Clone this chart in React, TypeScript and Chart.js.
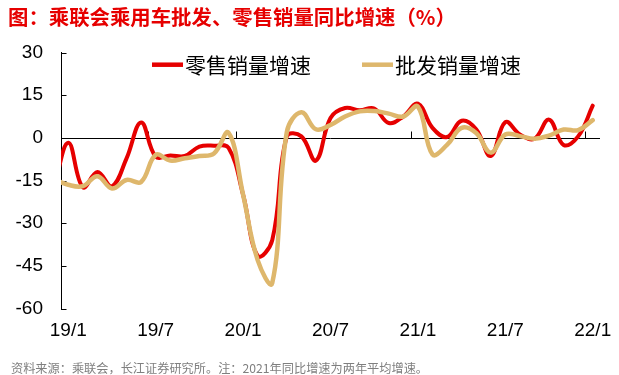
import React, { useEffect, useRef } from "react";
import { Chart, registerables } from "chart.js";

Chart.register(...registerables);

// Monthly categories (18/12 sits just left of the visible range, clipped by the axis)
const labels = [
  "18/12",
  "19/1", "19/2", "19/3", "19/4", "19/5", "19/6", "19/7", "19/8", "19/9", "19/10", "19/11", "19/12",
  "20/1", "20/2", "20/3", "20/4", "20/5", "20/6", "20/7", "20/8", "20/9", "20/10", "20/11", "20/12",
  "21/1", "21/2", "21/3", "21/4", "21/5", "21/6", "21/7", "21/8", "21/9", "21/10", "21/11", "21/12",
  "22/1",
];

const retailGrowth = [
  -18,
  -1.7, -17.4, -12, -17, -7.2, 5.4, -6.6, -6.2, -6.4, -3.1, -2.8, -3.5,
  -20, -41.5, -36, 0.5, 0.5, -8, 7, 10.5, 9.7, 10.3, 5.2, 7.5,
  12, 3.5, 0.3, 6, 3, -6.4, 5.5, 1.2, -0.3, 6.4, -2.5, 0.5,
  11.3,
];

const wholesaleGrowth = [
  -14.5,
  -16.5, -17, -13.5, -17.8, -14.8, -15.5, -6, -8, -7.2, -6.4, -5.5, 1.8,
  -20, -43, -51, 2, 9, 3, 4.5, 7.5, 9.3, 9.4, 8.5, 7.5,
  11, -5.8, -2.5, 3.5, 1.7, -5.2, 1.2, 0.6, -0.3, 0.8, 2.9, 2.7,
  6.2,
];

const xTickLabels = ["19/1", "19/7", "20/1", "20/7", "21/1", "21/7", "22/1"];
const yTicks = [30, 15, 0, -15, -30, -45, -60];
const seriesNames = ["零售销量增速", "批发销量增速"];

const titleText = "图：乘联会乘用车批发、零售销量同比增速（%）";
const sourceText = "资料来源：乘联会，长江证券研究所。注：2021年同比增速为两年平均增速。";

const RED = "#E60000";
const TAN = "#DEB76C";

const axesPlugin = {
  id: "customAxes",
  beforeDatasetsDraw(chart: any) {
    const { ctx, chartArea } = chart;
    const x = chart.scales.x;
    const y = chart.scales.y;
    const y0 = Math.round(y.getPixelForValue(0)) + 0.5;
    ctx.save();
    ctx.strokeStyle = "#000";
    ctx.lineWidth = 1;
    ctx.beginPath();
    ctx.moveTo(chartArea.left, y0);
    ctx.lineTo(chartArea.right, y0);
    xTickLabels.forEach((lab) => {
      const i = labels.indexOf(lab);
      const px = Math.round((x.getPixelForValue(i - 1) + x.getPixelForValue(i)) / 2) + 0.5;
      ctx.moveTo(px, y0);
      ctx.lineTo(px, y0 - 7);
    });
    yTicks.forEach((v) => {
      const py = Math.round(y.getPixelForValue(v)) + 0.5;
      ctx.moveTo(chartArea.left, py);
      ctx.lineTo(chartArea.left + 5.5, py);
    });
    ctx.stroke();
    ctx.restore();
  },
  afterDatasetsDraw(chart: any) {
    const { ctx } = chart;
    const items = [
      { name: seriesNames[0], color: RED, x0: 152 },
      { name: seriesNames[1], color: TAN, x0: 362 },
    ];
    ctx.save();
    items.forEach((it) => {
      ctx.strokeStyle = it.color;
      ctx.lineWidth = 4.5;
      ctx.lineCap = "butt";
      ctx.beginPath();
      ctx.moveTo(it.x0, 64.7);
      ctx.lineTo(it.x0 + 31, 64.7);
      ctx.stroke();
      ctx.fillStyle = "#000";
      ctx.font = '21px "Noto Sans CJK SC"';
      ctx.textBaseline = "middle";
      ctx.textAlign = "left";
      ctx.fillText(it.name, it.x0 + 33, 65.5);
    });
    ctx.restore();
  },
};

export default function App() {
  const canvasRef = useRef<HTMLCanvasElement | null>(null);

  useEffect(() => {
    if (!canvasRef.current) return;
    const chart = new Chart(canvasRef.current, {
      type: "line",
      data: {
        labels,
        datasets: [
          {
            label: seriesNames[0],
            data: retailGrowth,
            borderColor: RED,
            backgroundColor: RED,
            borderWidth: 4,
            pointRadius: 0,
            tension: 0.4,
            borderJoinStyle: "round",
            borderCapStyle: "round",
            order: 1,
          },
          {
            label: seriesNames[1],
            data: wholesaleGrowth,
            borderColor: TAN,
            backgroundColor: TAN,
            borderWidth: 4.5,
            pointRadius: 0,
            tension: 0.4,
            borderJoinStyle: "round",
            borderCapStyle: "round",
            order: 0,
          },
        ],
      },
      options: {
        animation: false,
        responsive: false,
        events: [],
        layout: {
          autoPadding: false,
          padding: { left: 0, top: 52.5, right: 19, bottom: 0 },
        },
        plugins: {
          legend: { display: false },
          tooltip: { enabled: false },
          title: { display: false },
        },
        scales: {
          x: {
            type: "category",
            offset: true,
            min: "19/1",
            max: "22/1",
            grid: { display: false, drawTicks: false },
            border: { display: false },
            ticks: {
              autoSkip: false,
              maxRotation: 0,
              minRotation: 0,
              padding: 11,
              color: "#000",
              font: { family: '"Liberation Sans", Arial, sans-serif', size: 19 },
              callback: (value: any) => {
                const lab = labels[value as number];
                return xTickLabels.includes(lab) ? lab : "";
              },
            },
            afterFit: (scale: any) => {
              scale.height = 66.5;
              scale.paddingLeft = 0;
              scale.paddingRight = 0;
            },
          },
          y: {
            min: -60,
            max: 30,
            grid: { display: false, drawTicks: false },
            border: { display: true, color: "#000", width: 1 },
            ticks: {
              stepSize: 15,
              padding: 18,
              color: "#000",
              font: { family: '"Liberation Sans", Arial, sans-serif', size: 19 },
            },
            afterFit: (scale: any) => {
              scale.width = 61;
              scale.paddingTop = 0;
              scale.paddingBottom = 0;
            },
          },
        },
      },
      plugins: [axesPlugin],
    });
    return () => chart.destroy();
  }, []);

  return (
    <div
      style={{
        position: "fixed",
        left: 0,
        top: 0,
        width: 619,
        height: 375,
        background: "#fff",
        overflow: "hidden",
      }}
    >
      <canvas
        ref={canvasRef}
        width={619}
        height={375}
        style={{ position: "absolute", left: 0, top: 0, width: 619, height: 375 }}
      />
      <div
        style={{
          position: "absolute",
          left: 8,
          top: 4,
          fontFamily: '"Noto Sans CJK SC", sans-serif',
          fontWeight: "bold",
          fontSize: 20.4,
          lineHeight: "25px",
          color: RED,
          whiteSpace: "nowrap",
        }}
      >
        {titleText}
      </div>
      <div
        style={{
          position: "absolute",
          left: 11,
          top: 361,
          fontFamily: '"Noto Sans CJK SC", sans-serif',
          fontSize: 12.2,
          lineHeight: "15px",
          color: "#7F7F7F",
          whiteSpace: "nowrap",
        }}
      >
        {sourceText}
      </div>
    </div>
  );
}
